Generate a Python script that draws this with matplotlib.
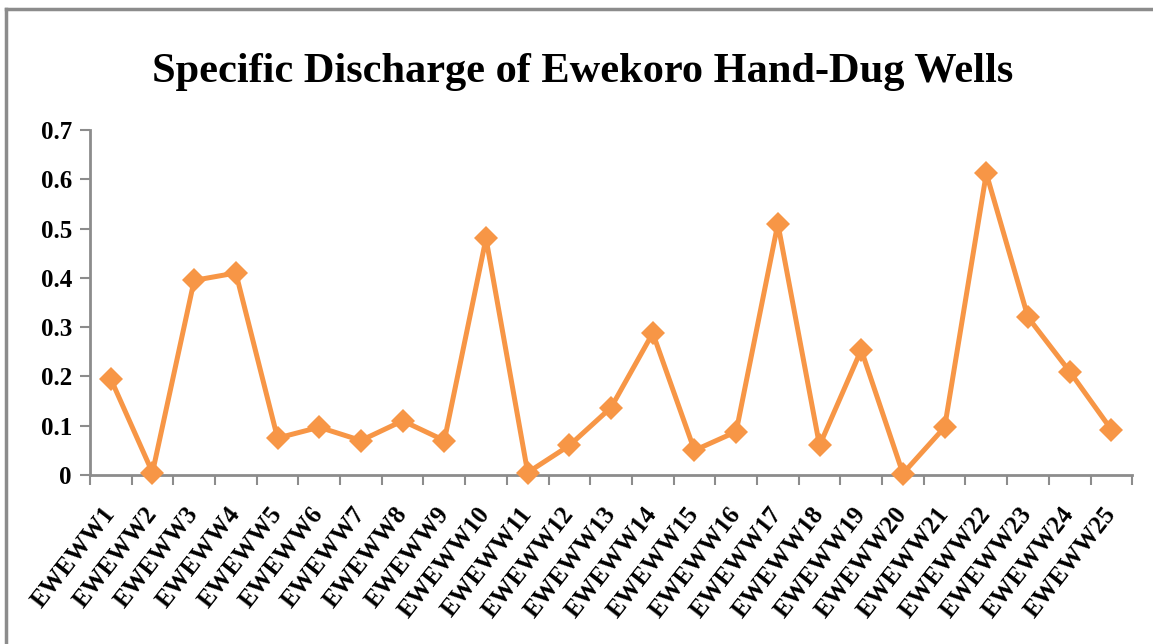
import matplotlib.pyplot as plt
from matplotlib.lines import Line2D
import numpy as np

# data
wells = ["EWEWW%d" % i for i in range(1, 26)]
specific_discharge = [0.195, 0.005, 0.395, 0.41, 0.075, 0.097, 0.07, 0.11, 0.07, 0.48,
                      0.005, 0.06, 0.137, 0.288, 0.05, 0.088, 0.51, 0.06, 0.254, 0.003,
                      0.097, 0.612, 0.32, 0.21, 0.092]
y_ticks = [0, 0.1, 0.2, 0.3, 0.4, 0.5, 0.6, 0.7]

orange = "#F79646"
axis_grey = "#8C8C8C"
serif = "Liberation Serif"

fig = plt.figure(figsize=(11.53, 6.44), dpi=100)
ax = fig.add_axes([0.078, 0.2624, 0.904, 0.5356])

x = np.arange(len(wells))
ax.plot(x, specific_discharge, color=orange, lw=3.6, marker="D", ms=12,
        markeredgewidth=0, clip_on=False, zorder=3)

ax.set_xlim(-0.5, len(wells) - 0.5)
ax.set_ylim(0, 0.7)

# category labels at centres, tick marks at boundaries
ax.set_xticks(x)
ax.set_xticklabels(wells, rotation=52, ha="right", va="center",
                   rotation_mode="anchor", family=serif, fontweight="bold",
                   fontsize=18)
ax.tick_params(axis="x", length=0, pad=25)
ax.set_xticks(np.arange(-0.5, len(wells)), minor=True)
ax.tick_params(axis="x", which="minor", length=7, width=1.5, color=axis_grey)

ax.set_yticks(y_ticks)
ax.set_yticklabels(["0" if v == 0 else "%.1f" % v for v in y_ticks],
                   family=serif, fontweight="bold", fontsize=18)
ax.tick_params(axis="y", length=7, width=1.5, color=axis_grey, pad=6)

for side in ["top", "right"]:
    ax.spines[side].set_visible(False)
for side in ["left", "bottom"]:
    ax.spines[side].set_color(axis_grey)
    ax.spines[side].set_linewidth(2)

fig.text(0.505, 0.888, "Specific Discharge of Ewekoro Hand-Dug Wells",
         ha="center", va="center", family=serif, fontweight="bold", fontsize=30.5)

# chart frame (top and left edges visible)
fig.add_artist(Line2D([0.005, 1.0], [0.986, 0.986], color=axis_grey, lw=2.5,
                      transform=fig.transFigure))
fig.add_artist(Line2D([0.005, 0.005], [0.0, 0.986], color=axis_grey, lw=2.5,
                      transform=fig.transFigure))

fig.savefig("out.png", dpi=100)
